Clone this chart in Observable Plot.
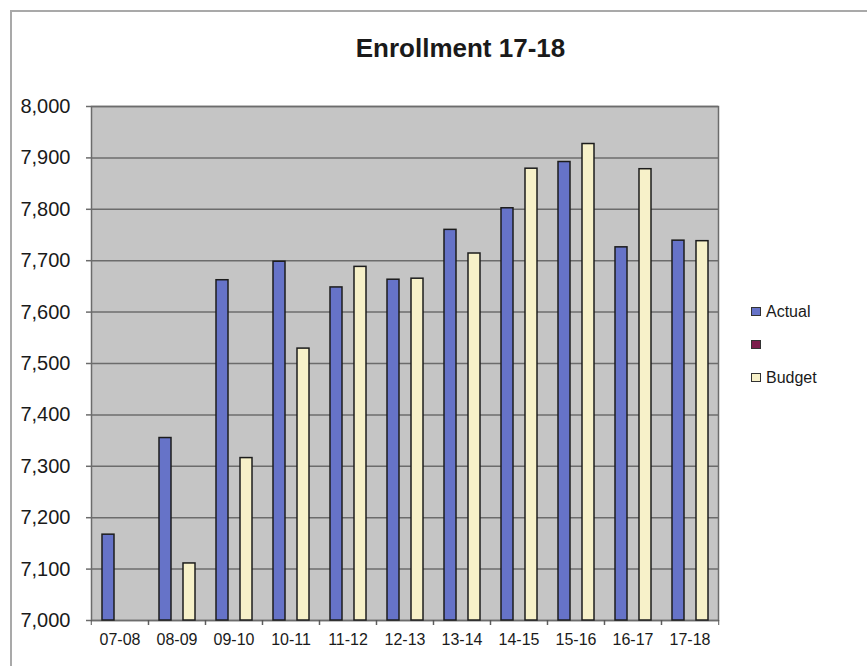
<!DOCTYPE html>
<html>
<head>
<meta charset="utf-8">
<script src="https://cdn.jsdelivr.net/npm/d3@7"></script>
<script src="https://cdn.jsdelivr.net/npm/@observablehq/plot@0.6"></script>
<style>
  html, body { margin: 0; padding: 0; background: #fff; }
  #page { position: relative; width: 867px; height: 666px; overflow: hidden; font-family: "Liberation Sans", Arial, sans-serif; }
  #border { position: absolute; left: 10px; top: 10px; width: 900px; height: 700px; border: 2px solid #a9a9a9; box-sizing: border-box; }
  #title { position: absolute; left: 0; top: 35px; width: 921px; text-align: center; font-size: 26px; line-height: 26px; font-weight: bold; color: #1a1a1a; }
  #chart { position: absolute; left: 0; top: 72px; }
  #legend { position: absolute; left: 751px; top: 303px; font-size: 16px; color: #1a1a1a; }
  .item { display: flex; align-items: center; height: 17px; margin-bottom: 16px; }
  .swatch { width: 10px; height: 9px; border: 1px solid #333; box-sizing: border-box; margin-right: 5px; }
</style>
</head>
<body>
<div id="page">
  <div id="border"></div>
  <div id="title">Enrollment 17-18</div>
  <div id="chart"></div>
  <div id="legend"></div>
</div>
<script>
// School years on the category axis
const seasons = ["07-08", "08-09", "09-10", "10-11", "11-12", "12-13", "13-14", "14-15", "15-16", "16-17", "17-18"];
// Enrollment counts per year (no budget figure for 07-08)
const actual = [7167, 7355, 7662, 7698, 7648, 7663, 7760, 7802, 7892, 7726, 7739];
const budget = [null, 7111, 7316, 7529, 7688, 7665, 7714, 7879, 7927, 7878, 7738];
// Series slots within each year; the middle series is unnamed and has no values
const seriesNames = ["Actual", "", "Budget"];
const seriesColors = ["#6673c8", "#7b1d4b", "#f7f1c9"];
// Value axis
const yDomain = [7000, 8000];
const yTicks = [7000, 7100, 7200, 7300, 7400, 7500, 7600, 7700, 7800, 7900, 8000];

const rows = [];
seasons.forEach((s, i) => {
  if (actual[i] != null) rows.push({season: s, series: seriesNames[0], value: actual[i]});
  if (budget[i] != null) rows.push({season: s, series: seriesNames[2], value: budget[i]});
});

const width = 867, height = 594;
const marginLeft = 88, marginRight = 147, marginTop = 34, marginBottom = 46;
const step = (width - marginLeft - marginRight) / seasons.length;

const chart = Plot.plot({
  width, height, marginLeft, marginRight, marginTop, marginBottom,
  style: {fontFamily: "'Liberation Sans', Arial, sans-serif", color: "#1a1a1a", background: "transparent"},
  fx: {domain: seasons, paddingInner: 0, paddingOuter: 0, label: null},
  x: {domain: seriesNames, paddingInner: 0, paddingOuter: 0.75, axis: null},
  y: {domain: yDomain, label: null},
  color: {domain: seriesNames, range: seriesColors},
  marks: [
    // one grey plot area spanning all year groups
    Plot.frame({facet: "super", fill: "#c5c5c5", stroke: null}),
    Plot.gridY(yTicks, {stroke: "#6c6c6c", strokeOpacity: 1, strokeWidth: 1.5}),
    Plot.frame({facet: "super", stroke: "#6c6c6c", strokeWidth: 1.5}),
    Plot.axisY(yTicks, {tickSize: 5, tickPadding: 16, tickFormat: d3.format(","), fontSize: 20, stroke: "#6c6c6c", strokeWidth: 1.5}),
    // year labels centred under each group
    Plot.axisFx({anchor: "bottom", tickSize: 0, tickPadding: 13, fontSize: 16, label: null}),
    // short ticks on the boundaries between groups
    Plot.axisFx({anchor: "bottom", tickSize: 5, tickFormat: () => "", dx: -step / 2, stroke: "#555", label: null}),
    Plot.axisFx(seasons.slice(-1), {anchor: "bottom", tickSize: 5, tickFormat: () => "", dx: step / 2, stroke: "#555", label: null}),
    Plot.barY(rows, {fx: "season", x: "series", y1: yDomain[0], y2: "value", fill: "series", stroke: "#1c1c1c", strokeWidth: 1.5})
  ]
});
document.getElementById("chart").appendChild(chart);

// legend listing all three series, including the unnamed one
const legend = document.getElementById("legend");
seriesNames.forEach((name, i) => {
  const item = document.createElement("div");
  item.className = "item";
  const sw = document.createElement("span");
  sw.className = "swatch";
  sw.style.background = seriesColors[i];
  const label = document.createElement("span");
  label.textContent = name;
  item.appendChild(sw);
  item.appendChild(label);
  legend.appendChild(item);
});
</script>
</body>
</html>
